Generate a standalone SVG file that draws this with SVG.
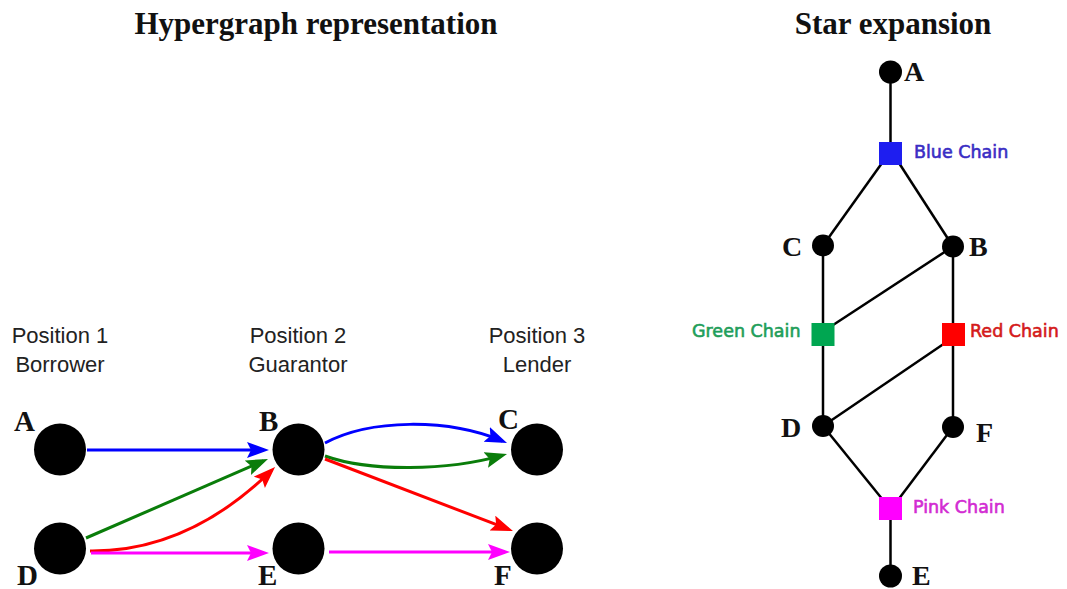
<svg xmlns="http://www.w3.org/2000/svg" width="1067" height="589" viewBox="0 0 1067 589">
<style>
.title{font-family:"Liberation Serif","Times New Roman",serif;font-weight:bold;font-size:31px;fill:#111;text-anchor:middle}
.pos{font-family:"Liberation Sans",Arial,sans-serif;font-size:22px;fill:#222;text-anchor:middle}
.lbl{font-family:"Liberation Serif","Times New Roman",serif;font-weight:bold;font-size:29px;fill:#111}
.lbl2{font-family:"Liberation Serif","Times New Roman",serif;font-weight:bold;font-size:28px;fill:#111}
.chain{font-family:"DejaVu Sans",Verdana,sans-serif;font-size:17.5px;stroke-width:0.6px}
.big{fill:#000}
.edge{fill:none;stroke-width:3}
.star{stroke:#000;stroke-width:2.5;fill:none}
</style>
<defs>
<marker id="ab" markerUnits="userSpaceOnUse" markerWidth="24" markerHeight="18" refX="17" refY="8" orient="auto"><path d="M0,0 L22,8 L0,16 L4,8 z" fill="#0000ff"/></marker>
<marker id="ag" markerUnits="userSpaceOnUse" markerWidth="24" markerHeight="18" refX="17" refY="8" orient="auto"><path d="M0,0 L22,8 L0,16 L4,8 z" fill="#0a7d0a"/></marker>
<marker id="ar" markerUnits="userSpaceOnUse" markerWidth="24" markerHeight="18" refX="17" refY="8" orient="auto"><path d="M0,0 L22,8 L0,16 L4,8 z" fill="#ff0000"/></marker>
<marker id="am" markerUnits="userSpaceOnUse" markerWidth="24" markerHeight="18" refX="17" refY="8" orient="auto"><path d="M0,0 L22,8 L0,16 L4,8 z" fill="#ff00ff"/></marker>
</defs>
<rect width="1067" height="589" fill="#fff"/>
<text class="title" x="316" y="34">Hypergraph representation</text>
<text class="title" x="893" y="34">Star expansion</text>

<g id="position-labels">
<text class="pos" x="60" y="343">Position 1</text>
<text class="pos" x="60" y="372">Borrower</text>
<text class="pos" x="298" y="343">Position 2</text>
<text class="pos" x="298" y="372">Guarantor</text>
<text class="pos" x="537" y="343">Position 3</text>
<text class="pos" x="537" y="372">Lender</text>
</g>

<g id="hyper-edges">
<path class="edge" stroke="#0000ff" d="M87,450 H264" marker-end="url(#ab)"/>
<path class="edge" stroke="#0a7d0a" d="M86,538 L263.4,461" marker-end="url(#ag)"/>
<path class="edge" stroke="#ff0000" d="M90,551 Q188,552 271.5,470.5" marker-end="url(#ar)"/>
<path class="edge" stroke="#ff00ff" d="M91,553 H264" marker-end="url(#am)"/>
<path class="edge" stroke="#0000ff" d="M325,443 C370,419 447,418 502.4,441" marker-end="url(#ab)"/>
<path class="edge" stroke="#0a7d0a" d="M325,456 C370,472 447,471 502.2,455.4" marker-end="url(#ag)"/>
<path class="edge" stroke="#ff0000" d="M325,459 L508.3,529.2" marker-end="url(#ar)"/>
<path class="edge" stroke="#ff00ff" d="M329,552 H505" marker-end="url(#am)"/>
</g>

<g id="hg-A"><circle class="big" cx="60" cy="449.5" r="26"/><text class="lbl" x="14" y="431">A</text></g>
<g id="hg-B"><circle class="big" cx="298.5" cy="449.5" r="26"/><text class="lbl" x="259" y="431">B</text></g>
<g id="hg-C"><circle class="big" cx="537" cy="449.5" r="26"/><text class="lbl" x="498" y="429">C</text></g>
<g id="hg-D"><circle class="big" cx="60" cy="548.5" r="26"/><text class="lbl" x="17" y="585">D</text></g>
<g id="hg-E"><circle class="big" cx="298.5" cy="548.5" r="26"/><text class="lbl" x="258" y="585">E</text></g>
<g id="hg-F"><circle class="big" cx="537" cy="548.5" r="26"/><text class="lbl" x="494" y="585">F</text></g>

<g id="star-edges">
<line class="star" x1="890.5" y1="72" x2="890.5" y2="154"/>
<line class="star" x1="882" y1="163" x2="823" y2="245.5"/>
<line class="star" x1="899" y1="163" x2="953" y2="246.5"/>
<line class="star" x1="823" y1="245.5" x2="823" y2="426"/>
<line class="star" x1="953" y1="246.5" x2="953" y2="427"/>
<line class="star" x1="953" y1="246.5" x2="830" y2="327"/>
<line class="star" x1="945" y1="343" x2="823" y2="426"/>
<line class="star" x1="823" y1="426" x2="883" y2="500"/>
<line class="star" x1="953" y1="427" x2="898" y2="500"/>
<line class="star" x1="890.5" y1="508" x2="890.5" y2="576"/>
</g>

<g id="se-A"><circle class="big" cx="890.5" cy="72" r="11.5"/><text class="lbl2" x="904" y="81">A</text></g>
<g id="se-blue-chain"><rect x="879" y="142" width="23" height="23" fill="#1e1ef0"/><text class="chain" x="914" y="158" fill="#3a2dc4" stroke="#3a2dc4">Blue Chain</text></g>
<g id="se-C"><circle class="big" cx="823" cy="245.5" r="11"/><text class="lbl2" x="782" y="256">C</text></g>
<g id="se-B"><circle class="big" cx="953" cy="246.5" r="11"/><text class="lbl2" x="969" y="256">B</text></g>
<g id="se-green-chain"><rect x="811.5" y="323" width="23" height="23" fill="#00a651"/><text class="chain" x="692" y="337" fill="#1f9e5a" stroke="#1f9e5a">Green Chain</text></g>
<g id="se-red-chain"><rect x="942" y="323" width="23" height="23" fill="#ff0000"/><text class="chain" x="970" y="337" fill="#d41a1a" stroke="#d41a1a">Red Chain</text></g>
<g id="se-D"><circle class="big" cx="823" cy="426" r="11"/><text class="lbl2" x="781" y="437">D</text></g>
<g id="se-F"><circle class="big" cx="953" cy="427" r="11"/><text class="lbl2" x="976" y="442">F</text></g>
<g id="se-pink-chain"><rect x="879" y="497" width="23" height="23" fill="#ff00ff"/><text class="chain" x="913" y="513" fill="#d22cd2" stroke="#d22cd2">Pink Chain</text></g>
<g id="se-E"><circle class="big" cx="890.5" cy="576" r="11.5"/><text class="lbl2" x="912" y="585">E</text></g>
</svg>
